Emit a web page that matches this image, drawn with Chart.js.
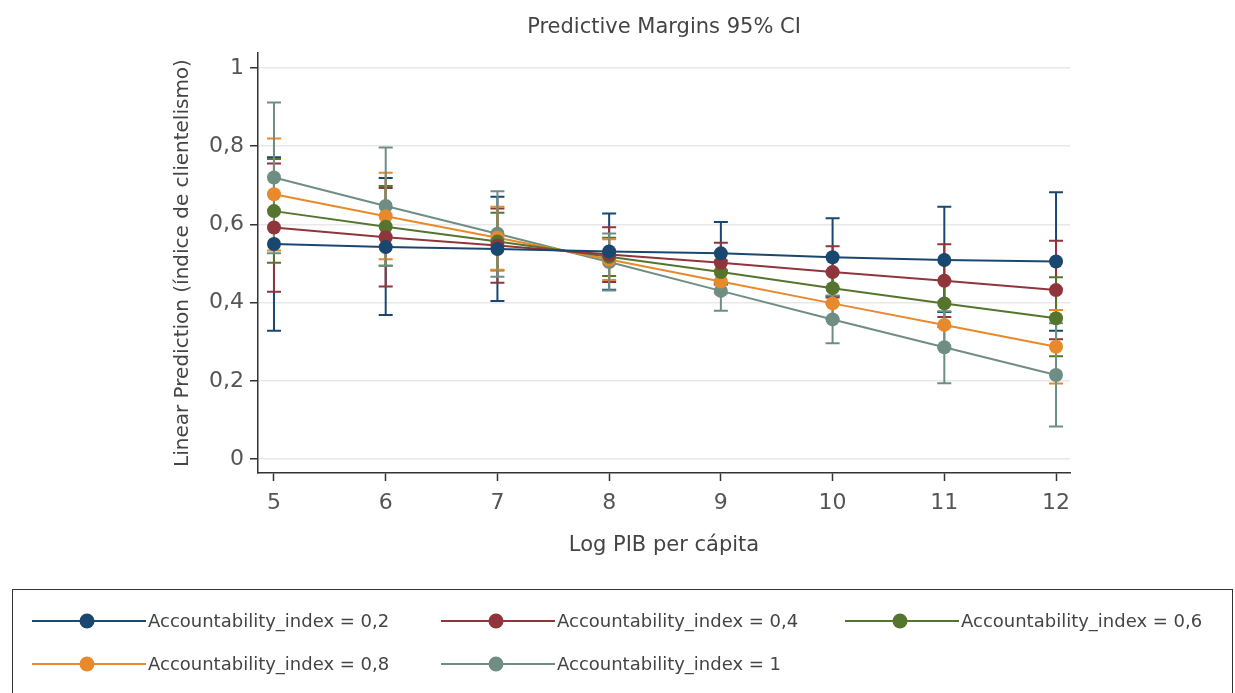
<!DOCTYPE html>
<html>
<head>
<meta charset="utf-8">
<script src="https://cdn.jsdelivr.net/npm/chart.js@4.4.1/dist/chart.umd.min.js"></script>
<style>
  html, body { margin: 0; padding: 0; background: #fff; }
  #wrap { width: 1235px; height: 693px; position: relative; }
</style>
</head>
<body>
<div id="wrap"><canvas id="chart1"></canvas></div>
<script>
// x values (Log PIB per cápita)
const logPib = [5, 6, 7, 8, 9, 10, 11, 12];
const yTicks = [0, 0.2, 0.4, 0.6, 0.8, 1];

// Accountability_index = 0,2
const mean02 = [0.550, 0.542, 0.537, 0.531, 0.526, 0.516, 0.509, 0.505];
const lo02   = [0.328, 0.368, 0.404, 0.433, 0.446, 0.416, 0.376, 0.328];
const hi02   = [0.772, 0.719, 0.671, 0.628, 0.606, 0.616, 0.645, 0.682];
// Accountability_index = 0,4
const mean04 = [0.592, 0.567, 0.546, 0.523, 0.502, 0.478, 0.456, 0.432];
const lo04   = [0.428, 0.441, 0.451, 0.453, 0.451, 0.413, 0.363, 0.306];
const hi04   = [0.756, 0.693, 0.641, 0.593, 0.553, 0.544, 0.549, 0.558];
// Accountability_index = 0,6
const mean06 = [0.634, 0.594, 0.556, 0.517, 0.478, 0.437, 0.398, 0.360];
const lo06   = [0.502, 0.494, 0.482, 0.468, 0.448, 0.397, 0.338, 0.263];
const hi06   = [0.767, 0.698, 0.630, 0.566, 0.508, 0.477, 0.458, 0.465];
// Accountability_index = 0,8
const mean08 = [0.677, 0.621, 0.566, 0.510, 0.454, 0.398, 0.343, 0.287];
const lo08   = [0.533, 0.511, 0.484, 0.458, 0.424, 0.358, 0.283, 0.193];
const hi08   = [0.820, 0.732, 0.645, 0.562, 0.484, 0.438, 0.403, 0.381];
// Accountability_index = 1
const mean10 = [0.720, 0.647, 0.576, 0.504, 0.430, 0.357, 0.286, 0.215];
const lo10   = [0.526, 0.494, 0.466, 0.431, 0.379, 0.296, 0.194, 0.083];
const hi10   = [0.912, 0.797, 0.685, 0.577, 0.481, 0.418, 0.378, 0.347];

const labels = ['Accountability_index = 0,2', 'Accountability_index = 0,4', 'Accountability_index = 0,6',
                'Accountability_index = 0,8', 'Accountability_index = 1'];
const colors = ['#1a476f', '#90353b', '#55752f', '#e8892b', '#6e8e84'];
const means = [mean02, mean04, mean06, mean08, mean10];
const lows = [lo02, lo04, lo06, lo08, lo10];
const highs = [hi02, hi04, hi06, hi08, hi10];

const FONT = "'DejaVu Sans', sans-serif";

// confidence interval spikes with caps, drawn under the lines
const ciPlugin = {
    id: 'ciBars',
    beforeDatasetsDraw(chart) {
        const ctx = chart.ctx;
        const xs = chart.scales.x, ys = chart.scales.y;
        ctx.save();
        ctx.lineWidth = 2;
        for (let s = 0; s < means.length; s++) {
            ctx.strokeStyle = colors[s];
            for (let i = 0; i < logPib.length; i++) {
                const px = xs.getPixelForValue(logPib[i]);
                const top = ys.getPixelForValue(highs[s][i]);
                const bot = ys.getPixelForValue(lows[s][i]);
                ctx.beginPath();
                ctx.moveTo(px, top); ctx.lineTo(px, bot);
                ctx.moveTo(px - 7, top); ctx.lineTo(px + 7, top);
                ctx.moveTo(px - 7, bot); ctx.lineTo(px + 7, bot);
                ctx.stroke();
            }
        }
        ctx.restore();
    }
};

// title above plot area + boxed legend at the bottom
const extrasPlugin = {
    id: 'extras',
    afterDraw(chart) {
        const ctx = chart.ctx;
        const area = chart.chartArea;
        ctx.save();
        ctx.fillStyle = '#444';
        ctx.font = "21px " + FONT;
        ctx.textAlign = 'center';
        ctx.textBaseline = 'middle';
        ctx.fillText('Predictive Margins 95% CI', (area.left + area.right) / 2, 28);

        // legend box
        ctx.strokeStyle = '#333';
        ctx.lineWidth = 1;
        ctx.strokeRect(12.5, 589.5, 1220, 120);
        const colX = [32, 441, 845];
        const rowY = [621, 664];
        ctx.font = "18px " + FONT;
        ctx.textAlign = 'left';
        for (let s = 0; s < labels.length; s++) {
            const x0 = colX[s % 3], y0 = rowY[Math.floor(s / 3)];
            ctx.strokeStyle = colors[s];
            ctx.lineWidth = 2;
            ctx.beginPath();
            ctx.moveTo(x0, y0); ctx.lineTo(x0 + 114, y0);
            ctx.stroke();
            ctx.fillStyle = colors[s];
            ctx.beginPath();
            ctx.arc(x0 + 55, y0, 7.5, 0, Math.PI * 2);
            ctx.fill();
            ctx.fillStyle = '#444';
            ctx.fillText(labels[s], x0 + 116, y0 + 1);
        }
        ctx.restore();
    }
};

const datasets = means.map(function (m, s) {
    return {
        label: labels[s],
        data: logPib.map(function (x, i) { return { x: x, y: m[i] }; }),
        borderColor: colors[s],
        backgroundColor: colors[s],
        pointBackgroundColor: colors[s],
        pointBorderColor: colors[s],
        borderWidth: 2,
        pointRadius: 7,
        pointBorderWidth: 0,
        tension: 0
    };
});

const ctxChart1 = document.getElementById('chart1').getContext('2d');
const chart1 = new Chart(ctxChart1, {
    type: 'line',
    plugins: [ciPlugin, extrasPlugin],
    data: { datasets: datasets },
    options: {
        responsive: true,
        maintainAspectRatio: false,
        animation: false,
        layout: { padding: { left: 160, right: 165, top: 53, bottom: 130 } },
        plugins: {
            legend: { display: false },
            title: { display: false },
            tooltip: { enabled: false }
        },
        scales: {
            x: {
                type: 'linear',
                min: 4.857,
                max: 12.125,
                afterBuildTicks: function (axis) {
                    axis.ticks = logPib.map(function (v) { return { value: v }; });
                },
                afterFit: function (axis) { axis.height = 90; },
                grid: { drawOnChartArea: false, drawTicks: true, tickLength: 8, tickColor: '#333', tickWidth: 1.5 },
                border: { display: true, color: '#333', width: 1.5 },
                ticks: { color: '#555', font: { family: FONT, size: 22 }, padding: 9 },
                title: {
                    display: true,
                    text: 'Log PIB per cápita',
                    color: '#444',
                    font: { family: FONT, size: 21 },
                    padding: { top: 0, bottom: 5 }
                }
            },
            y: {
                min: -0.0358,
                max: 1.0384,
                afterBuildTicks: function (axis) {
                    axis.ticks = yTicks.map(function (v) { return { value: v }; });
                },
                afterFit: function (axis) { axis.width = 98; },
                grid: { color: '#e8e8e8', lineWidth: 1.5, drawTicks: true, tickLength: 8, tickColor: '#333', tickWidth: 1.5 },
                border: { display: true, color: '#333', width: 1.5 },
                ticks: {
                    color: '#555',
                    font: { family: FONT, size: 22 },
                    padding: 6,
                    callback: function (v) { return String(v).replace('.', ','); }
                },
                title: {
                    display: true,
                    text: 'Linear Prediction (índice de clientelismo)',
                    color: '#444',
                    font: { family: FONT, size: 20 },
                    padding: { top: 11, bottom: 0 }
                }
            }
        }
    }
});
</script>
</body>
</html>
